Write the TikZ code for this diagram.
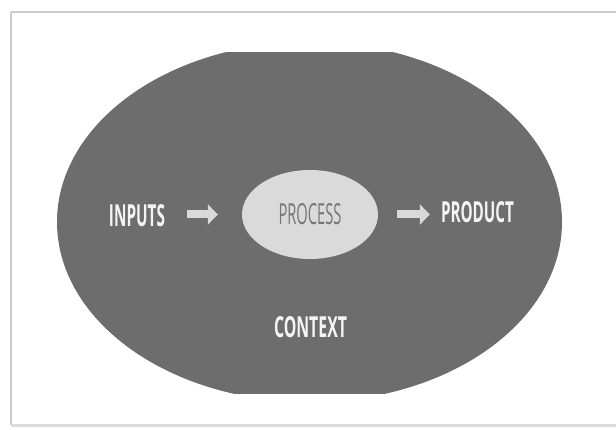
\documentclass[tikz,border=0pt]{standalone}
\usepackage{fontspec}
\setsansfont{Open Sans}
\usetikzlibrary{arrows.meta}
\definecolor{ctxfill}{HTML}{6D6D6D}
\definecolor{procfill}{HTML}{DADADA}
\definecolor{proctext}{HTML}{767676}
\definecolor{wtext}{HTML}{F4F4F4}
\definecolor{arrowcol}{HTML}{D9D9D9}
\definecolor{framecol}{HTML}{CCCCCC}
\newcommand{\lbl}[3]{\resizebox{#1pt}{#2pt}{\sffamily\bfseries #3}}
\tikzset{
  wlabel/.style={inner sep=0pt, text=wtext},
  procnode/.style={ellipse, fill=procfill, inner sep=0pt, text=proctext},
  fatarrow/.style={draw=arrowcol, line width=8pt, -{Triangle[length=10pt,width=20pt]}},
}
\usetikzlibrary{shapes.geometric}
\begin{document}
\begin{tikzpicture}[x=1pt,y=-1pt]
\useasboundingbox (0,0) rectangle (616,430);
\fill[white] (0,0) rectangle (616,430);
% frame
\draw[framecol, line width=1.5pt] (11,12) -- (630,12);
\draw[framecol, line width=1.5pt] (11,12) -- (11,425);
\draw[framecol!70, line width=3pt] (11,425) -- (630,425);
% context ellipse, clipped top and bottom
\begin{scope}
  \clip (0,52.7) rectangle (616,393);
  \fill[ctxfill] (309.5,222) ellipse [x radius=252.5, y radius=180];
\end{scope}
% nodes
\node[procnode, minimum width=136pt, minimum height=89pt] (process) at (310,214.5) {\resizebox{63pt}{21pt}{\sffamily PROCESS}};
\node[wlabel] (inputs) at (137,216) {\lbl{56}{22}{INPUTS}};
\node[wlabel] (product) at (477.5,212.5) {\lbl{73}{21}{PRODUCT}};
\node[wlabel] (context) at (310.5,327.5) {\lbl{73}{21}{CONTEXT}};
% arrows
\draw[fatarrow, shorten <=22pt, shorten >=24pt] (inputs.east |- process.west) -- (process.west);
\draw[fatarrow, shorten <=19pt, shorten >=11pt] (process.east) -- (product.west |- process.east);
\end{tikzpicture}
\end{document}
